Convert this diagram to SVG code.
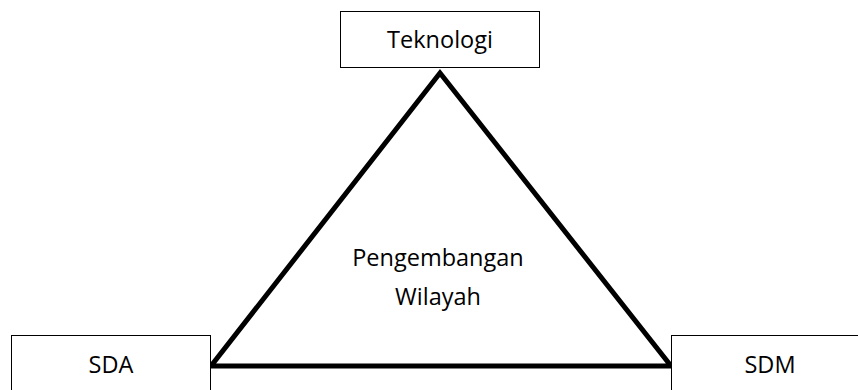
<svg xmlns="http://www.w3.org/2000/svg" width="858" height="390" viewBox="0 0 858 390">
<style>
.box{fill:#fff;stroke:#000;stroke-width:1}
.t{font-family:"Open Sans","Liberation Sans",sans-serif;font-size:23.5px;fill:#000;text-anchor:middle}
.tri{fill:none;stroke:#000;stroke-width:5;stroke-linejoin:miter}
</style>
<rect width="858" height="390" fill="#fff"/>
<g id="connectors">
<polygon class="tri" points="440,73 211,366 671,366"/>
</g>
<g id="teknologi">
<rect class="box" x="340.5" y="11.5" width="199" height="56"/>
<text class="t" x="440" y="48">Teknologi</text>
</g>
<g id="sda">
<rect class="box" x="11.5" y="335.5" width="199" height="70"/>
<text class="t" x="111" y="373">SDA</text>
</g>
<g id="sdm">
<rect class="box" x="671.5" y="335.5" width="199" height="70"/>
<text class="t" x="770" y="373">SDM</text>
</g>
<g id="pengembangan">
<text class="t" x="438" y="266">Pengembangan</text>
<text class="t" x="438" y="305">Wilayah</text>
</g>
</svg>
